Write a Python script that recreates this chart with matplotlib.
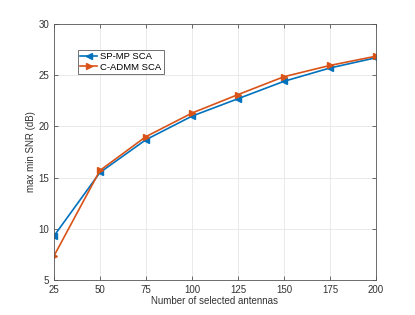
import matplotlib
matplotlib.use("Agg")
import matplotlib.pyplot as plt

antennas = [25, 50, 75, 100, 125, 150, 175, 200]
sp_mp = [9.3, 15.5, 18.7, 21.0, 22.7, 24.4, 25.7, 26.7]
c_admm = [7.35, 15.7, 19.0, 21.3, 23.1, 24.85, 25.95, 26.85]
xticks = [25, 50, 75, 100, 125, 150, 175, 200]
yticks = [5, 10, 15, 20, 25, 30]

plt.rcParams['font.family'] = ['Liberation Sans', 'DejaVu Sans']
fig = plt.figure(figsize=(4.15, 3.15), dpi=100)
ax = fig.add_axes([0.130, 0.111, 0.776, 0.813])
ax.plot(antennas, sp_mp, color='#0072BD', marker='<', markersize=5, lw=1.2, label='SP-MP SCA')
ax.plot(antennas, c_admm, color='#D95319', marker='>', markersize=5, lw=1.2, label='C-ADMM SCA')
ax.set_xlim(25, 200)
ax.set_ylim(5, 30)
ax.set_xticks(xticks)
ax.set_yticks(yticks)
ax.grid(True, color='#e6e6e6', lw=0.6)
ax.set_axisbelow(True)
for s in ax.spines.values():
    s.set_color('#555555')
    s.set_linewidth(0.6)
ax.tick_params(direction='in', labelsize=7, colors='#333333', length=3, width=0.5, top=True, right=True)
ax.set_xlabel('Number of selected antennas', fontsize=7, color='#333333', labelpad=1)
ax.set_ylabel('max min SNR (dB)', fontsize=7, color='#333333', labelpad=2)
leg = ax.legend(loc='upper left', bbox_to_anchor=(0.074, 0.899), fontsize=6.8, frameon=True,
                fancybox=False, edgecolor='#333333', borderpad=0.25, handlelength=1.8,
                handletextpad=0.3, labelspacing=0.15, borderaxespad=0)
leg.get_frame().set_linewidth(0.6)
fig.savefig('out.png', dpi=100)
